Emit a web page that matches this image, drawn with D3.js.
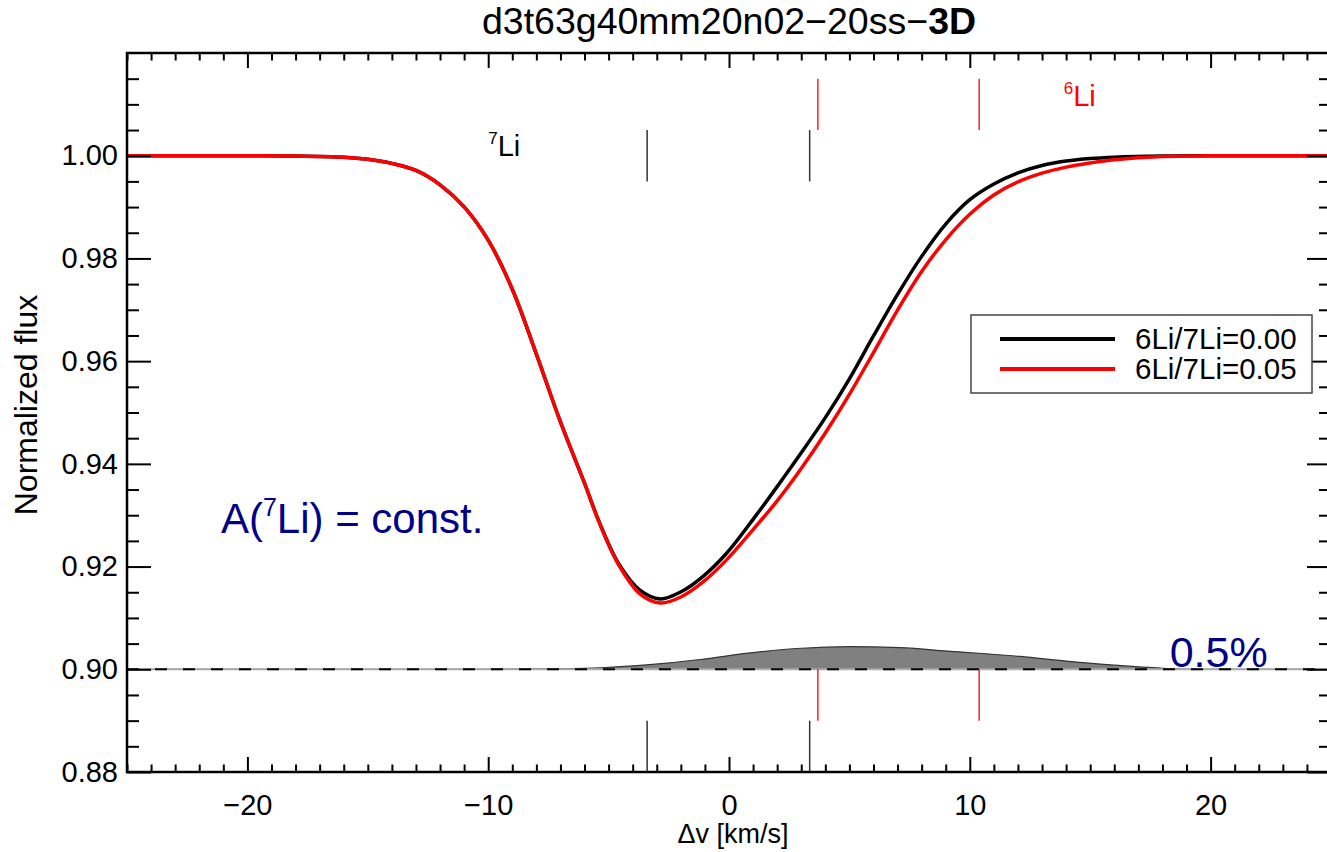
<!DOCTYPE html>
<html>
<head>
<meta charset="utf-8">
<script src="https://cdn.jsdelivr.net/npm/d3@7"></script>
<style>
  body { margin: 0; background: #fff; }
  svg { display: block; font-family: 'Liberation Sans', Arial, sans-serif; }
</style>
</head>
<body>
<svg id="chart" width="1327" height="852"></svg>
<script>
// velocity grid [km/s] and the two synthetic profiles
const velocity = [-25, -20, -18, -16, -15, -14, -13, -12, -11, -10, -9, -8, -7, -6, -5.4, -4.6, -3.7, -2.85, -1.95, -1.05, -0.1,
                  1, 2, 3, 4, 5, 6, 7, 8, 9, 10, 11, 12, 13, 14, 15, 16, 18, 20, 25];
const fluxNoLi6 = [1.0000, 1.0000, 0.99995, 0.9997, 0.9993, 0.9985, 0.99713, 0.99434, 0.99005, 0.98357, 0.97400, 0.96138, 0.94817, 0.93623, 0.9288, 0.9207, 0.9154, 0.9137, 0.9152, 0.9182, 0.9226,
                   0.9292, 0.93557, 0.94215, 0.94900, 0.95656, 0.96490, 0.97300, 0.98040, 0.98669, 0.99143, 0.99449, 0.99667, 0.99810, 0.99895, 0.99945, 0.99972, 0.99995, 1.0000, 1.0000];
const fluxLi6 = [1.0000, 1.0000, 0.99995, 0.9997, 0.9993, 0.9985, 0.99713, 0.99434, 0.99005, 0.98357, 0.97400, 0.96138, 0.94817, 0.93623, 0.9287, 0.9205, 0.9147, 0.9129, 0.9142, 0.9171, 0.9213,
                 0.9272, 0.93279, 0.93910, 0.94601, 0.95353, 0.96168, 0.96994, 0.97745, 0.98363, 0.98859, 0.99235, 0.99490, 0.99660, 0.99778, 0.99858, 0.99920, 0.99985, 0.99998, 1.0000];

// difference profile, drawn above the 0.90 reference line
const diffVelocity = [-25, -10, -7, -5.3, -3.3, -1.2, 0.9, 3, 5, 7.1, 9.2, 12.1, 14, 16, 18, 19.5, 25];
const diffFlux = [0, 0, 0.0001, 0.0003, 0.0009, 0.0019, 0.0032, 0.0041, 0.0044, 0.0042, 0.0035, 0.0025, 0.0016, 0.0008, 0.0002, 0, 0];
const diffBase = 0.90;

// line positions of the Li components
const li7Lines = [-3.40, 3.35];
const li6Lines = [3.69, 10.39];

const seriesNames = ['6Li/7Li=0.00', '6Li/7Li=0.05'];
const seriesColors = ['#000000', '#ff0000'];

const xMajor = [-20, -10, 0, 10, 20];
const yMajor = [0.88, 0.90, 0.92, 0.94, 0.96, 0.98, 1.00];

const svg = d3.select('#chart');
const margin = {top: 53, right: -4, bottom: 80, left: 127};
const width = 1327 - margin.left - margin.right;
const height = 852 - margin.top - margin.bottom;

const x = d3.scaleLinear().domain([-25, 25]).range([0, width]);
const y = d3.scaleLinear().domain([0.88, 1.02]).range([height, 0]);

const g = svg.append('g').attr('transform', 'translate(' + margin.left + ',' + margin.top + ')');

// difference area
const diffData = diffVelocity.map((v, i) => ({v: v, d: diffFlux[i]}));
g.append('path')
  .datum(diffData)
  .attr('fill', '#808080')
  .attr('d', d3.area().curve(d3.curveMonotoneX)
    .x(d => x(d.v)).y0(y(diffBase)).y1(d => y(diffBase + d.d)));
g.append('path')
  .datum(diffData)
  .attr('fill', 'none')
  .attr('stroke', '#333')
  .attr('stroke-width', 1.2)
  .attr('d', d3.line().curve(d3.curveMonotoneX).x(d => x(d.v)).y(d => y(diffBase + d.d)));

// reference line at 0.90
g.append('line')
  .attr('x1', 0).attr('x2', width)
  .attr('y1', y(diffBase)).attr('y2', y(diffBase))
  .attr('stroke', '#aaa').attr('stroke-width', 2);
g.append('line')
  .attr('x1', 0).attr('x2', width)
  .attr('y1', y(diffBase)).attr('y2', y(diffBase))
  .attr('stroke', '#000').attr('stroke-width', 2)
  .attr('stroke-dasharray', '12,16');

// component markers, top and bottom
li7Lines.forEach(v => {
  g.append('line').attr('x1', x(v)).attr('x2', x(v)).attr('y1', y(1.005)).attr('y2', y(0.995))
    .attr('stroke', '#333').attr('stroke-width', 1.5);
  g.append('line').attr('x1', x(v)).attr('x2', x(v)).attr('y1', y(0.89)).attr('y2', y(0.88))
    .attr('stroke', '#333').attr('stroke-width', 1.5);
});
li6Lines.forEach(v => {
  g.append('line').attr('x1', x(v)).attr('x2', x(v)).attr('y1', y(1.015)).attr('y2', y(1.005))
    .attr('stroke', '#ff2020').attr('stroke-width', 1.5);
  g.append('line').attr('x1', x(v)).attr('x2', x(v)).attr('y1', y(0.90)).attr('y2', y(0.89))
    .attr('stroke', '#ff2020').attr('stroke-width', 1.5);
});

// profiles
const line = d3.line().curve(d3.curveCatmullRom.alpha(0.5)).x(d => x(d[0])).y(d => y(d[1]));
[fluxNoLi6, fluxLi6].forEach((s, i) => {
  g.append('path')
    .datum(velocity.map((v, j) => [v, s[j]]))
    .attr('fill', 'none')
    .attr('stroke', seriesColors[i])
    .attr('stroke-width', 3.5)
    .attr('stroke-linejoin', 'round')
    .attr('d', line);
});

// axes, ticks pointing inwards on all four sides
function styleAxis(sel) {
  sel.select('.domain').remove();
  sel.selectAll('.tick line').attr('stroke', '#000').attr('stroke-width', 2);
  sel.selectAll('.tick text').attr('fill', '#000').style('font-size', '29px')
    .style('font-family', "'Liberation Sans', Arial, sans-serif");
}
const xMinor = d3.range(-25, 26, 1).filter(v => xMajor.indexOf(v) < 0);
const yMinor = d3.range(0, 29).map(i => +(0.88 + i * 0.005).toFixed(3)).filter(v => yMajor.indexOf(v) < 0 && v < 1.02);

g.append('g').attr('transform', 'translate(0,' + height + ')')
  .call(d3.axisBottom(x).tickValues(xMajor).tickSize(-15).tickSizeOuter(0).tickPadding(22)
    .tickFormat(d => d < 0 ? '\u2212' + Math.abs(d) : d))
  .call(styleAxis);
g.append('g').attr('transform', 'translate(0,' + height + ')')
  .call(d3.axisBottom(x).tickValues(xMinor).tickSize(-7.5).tickSizeOuter(0).tickFormat(''))
  .call(styleAxis);
g.append('g')
  .call(d3.axisTop(x).tickValues(xMajor).tickSize(-15).tickSizeOuter(0).tickFormat(''))
  .call(styleAxis);
g.append('g')
  .call(d3.axisTop(x).tickValues(xMinor).tickSize(-7.5).tickSizeOuter(0).tickFormat(''))
  .call(styleAxis);
g.append('g')
  .call(d3.axisLeft(y).tickValues(yMajor).tickSize(-24).tickSizeOuter(0).tickPadding(9).tickFormat(d3.format('.2f')))
  .call(styleAxis);
g.append('g')
  .call(d3.axisLeft(y).tickValues(yMinor).tickSize(-12).tickSizeOuter(0).tickFormat(''))
  .call(styleAxis);
g.append('g').attr('transform', 'translate(' + width + ',0)')
  .call(d3.axisRight(y).tickValues(yMajor).tickSize(-24).tickSizeOuter(0).tickFormat(''))
  .call(styleAxis);
g.append('g').attr('transform', 'translate(' + width + ',0)')
  .call(d3.axisRight(y).tickValues(yMinor).tickSize(-12).tickSizeOuter(0).tickFormat(''))
  .call(styleAxis);

g.append('rect')
  .attr('width', width).attr('height', height)
  .attr('fill', 'none').attr('stroke', '#000').attr('stroke-width', 2.5);

// labels of the components
const t7 = g.append('text').attr('x', x(-10.0)).attr('y', y(1.0)).attr('fill', '#000').style('font-size', '29px');
t7.append('tspan').text('7').style('font-size', '17px').attr('dy', -12);
t7.append('tspan').text('Li').attr('dy', 12);
const t6 = g.append('text').attr('x', x(13.9)).attr('y', y(1.0097)).attr('fill', '#ff0000').style('font-size', '29px');
t6.append('tspan').text('6').style('font-size', '17px').attr('dy', -12);
t6.append('tspan').text('Li').attr('dy', 12);

// annotations
const ta = g.append('text').attr('x', x(-21.1)).attr('y', y(0.9265)).attr('fill', '#000088').style('font-size', '42px');
ta.append('tspan').text('A(');
ta.append('tspan').text('7').style('font-size', '25px').attr('dy', -17);
ta.append('tspan').text('Li) = const.').attr('dy', 17);
g.append('text').attr('x', x(18.3)).attr('y', y(0.9004)).attr('fill', '#000088')
  .style('font-size', '43px').text('0.5%');

// legend
const legend = g.append('g').attr('transform', 'translate(' + (971 - margin.left) + ',' + (315 - margin.top) + ')');
legend.append('rect').attr('width', 341).attr('height', 78)
  .attr('fill', '#fff').attr('stroke', '#444').attr('stroke-width', 1.5);
seriesNames.forEach((n, i) => {
  legend.append('line').attr('x1', 29).attr('x2', 144).attr('y1', 24 + i * 30).attr('y2', 24 + i * 30)
    .attr('stroke', seriesColors[i]).attr('stroke-width', 4);
  legend.append('text').attr('x', 164).attr('y', 34 + i * 30).attr('fill', '#000')
    .style('font-size', '29.5px').text(n);
});

// titles
const title = svg.append('text').attr('x', 729).attr('y', 34).attr('text-anchor', 'middle')
  .attr('fill', '#000').style('font-size', '37.5px');
title.append('tspan').text('d3t63g40mm20n02\u221220ss\u2212');
title.append('tspan').text('3D').style('font-weight', 'bold');

svg.append('text').attr('x', 733).attr('y', 843).attr('text-anchor', 'middle')
  .attr('fill', '#000').style('font-size', '27px').text('\u0394v [km/s]');
svg.append('text').attr('transform', 'translate(37,405) rotate(-90)').attr('text-anchor', 'middle')
  .attr('fill', '#000').style('font-size', '32px').text('Normalized flux');
</script>
</body>
</html>
